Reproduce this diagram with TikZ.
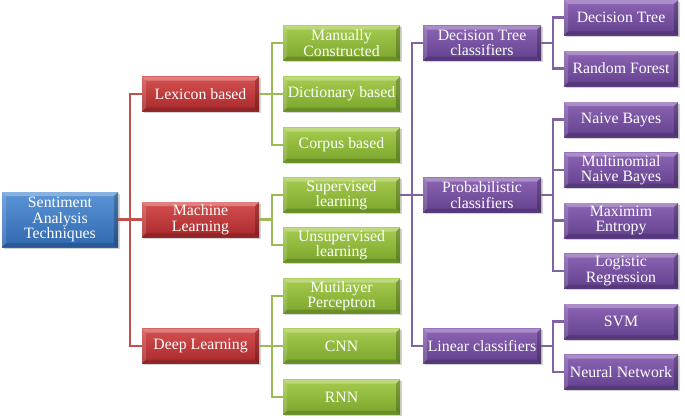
\documentclass[tikz,border=0pt]{standalone}
\usepackage{fontspec}
\setmainfont{Liberation Serif}
\usetikzlibrary{shadows}
\definecolor{bluetop}{HTML}{5C95D6}
\definecolor{bluebot}{HTML}{2F68AE}
\definecolor{redtop}{HTML}{D65050}
\definecolor{redbot}{HTML}{A8292B}
\definecolor{greentop}{HTML}{A6CC4E}
\definecolor{greenbot}{HTML}{7AA52B}
\definecolor{purptop}{HTML}{8D65B5}
\definecolor{purpbot}{HTML}{62408D}
\definecolor{redline}{HTML}{C0504D}
\definecolor{greenline}{HTML}{9BBB59}
\definecolor{purpline}{HTML}{8064A2}
\tikzset{
  bevel/.style={path picture={
    \fill[white,opacity=0.28] (path picture bounding box.north west) -- (path picture bounding box.north east)
      -- ([xshift=-4pt,yshift=-4pt]path picture bounding box.north east)
      -- ([xshift=4pt,yshift=-4pt]path picture bounding box.north west) -- cycle;
    \fill[white,opacity=0.15] (path picture bounding box.north west) -- (path picture bounding box.south west)
      -- ([xshift=4pt,yshift=4pt]path picture bounding box.south west)
      -- ([xshift=4pt,yshift=-4pt]path picture bounding box.north west) -- cycle;
    \fill[black,opacity=0.22] (path picture bounding box.north east) -- (path picture bounding box.south east)
      -- ([xshift=-4pt,yshift=4pt]path picture bounding box.south east)
      -- ([xshift=-4pt,yshift=-4pt]path picture bounding box.north east) -- cycle;
    \fill[black,opacity=0.15] (path picture bounding box.south west) -- (path picture bounding box.south east)
      -- ([xshift=-4pt,yshift=4pt]path picture bounding box.south east)
      -- ([xshift=4pt,yshift=4pt]path picture bounding box.south west) -- cycle;
  }},
  box/.style={rectangle, minimum height=35pt, inner sep=0pt, align=center,
    text=white, font=\fontsize{15.8}{15.5}\selectfont, bevel,
    drop shadow={shadow xshift=1.5pt, shadow yshift=-1.5pt, opacity=0.35}},
  bluebox/.style={box, minimum width=116pt, minimum height=55pt, top color=bluetop, bottom color=bluebot},
  redbox/.style={box, minimum width=117pt, top color=redtop, bottom color=redbot},
  greenbox/.style={box, minimum width=117pt, top color=greentop, bottom color=greenbot},
  purpbox/.style={box, minimum width=118pt, top color=purptop, bottom color=purpbot},
  purpboxr/.style={box, minimum width=114pt, top color=purptop, bottom color=purpbot},
  conn/.style={line width=2.6pt, line join=miter},
}
\begin{document}
\begin{tikzpicture}[x=1pt,y=-1pt]
\useasboundingbox (0,0) rectangle (685,418);
% nodes
\node[bluebox] (root) at (60,219.5) {Sentiment\\Analysis\\Techniques};

\node[redbox] (lex) at (200.5,94) {Lexicon based};
\node[redbox] (ml) at (200.5,219.5) {Machine\\Learning};
\node[redbox] (dl) at (200.5,346) {Deep Learning};

\node[greenbox] (man) at (341.5,43) {Manually\\Constructed};
\node[greenbox] (dict) at (341.5,94) {Dictionary based};
\node[greenbox] (corp) at (341.5,145) {Corpus based};
\node[greenbox] (sup) at (341.5,195) {Supervised\\learning};
\node[greenbox] (unsup) at (341.5,245) {Unsupervised\\learning};
\node[greenbox] (mlp) at (341.5,296) {Mutilayer\\Perceptron};
\node[greenbox] (cnn) at (341.5,346) {CNN};
\node[greenbox] (rnn) at (341.5,397) {RNN};

\node[purpbox] (dtc) at (482,43) {Decision Tree\\classifiers};
\node[purpbox] (prob) at (482,195) {Probabilistic\\classifiers};
\node[purpbox] (lin) at (482,346) {Linear classifiers};

\node[purpboxr] (dt) at (621,17.5) {Decision Tree};
\node[purpboxr] (rf) at (621,68.5) {Random Forest};
\node[purpboxr] (nb) at (621,119.5) {Naive Bayes};
\node[purpboxr] (mnb) at (621,170) {Multinomial\\Naive Bayes};
\node[purpboxr] (me) at (621,220.5) {Maximim\\Entropy};
\node[purpboxr] (lr) at (621,271) {Logistic\\Regression};
\node[purpboxr] (svm) at (621,321.5) {SVM};
\node[purpboxr] (nn) at (621,372) {Neural Network};

% trunk coordinates
\coordinate (tr) at (130,219.5);
\coordinate (tg1) at (272,94);
\coordinate (tg2) at (272,219.5);
\coordinate (tg3) at (272,346);
\coordinate (tp) at (412,195);
\coordinate (tq1) at (553,43);
\coordinate (tq2) at (553,195);
\coordinate (tq3) at (553,346);

% connectors
\begin{scope}[conn, draw=redline]
\draw (root.east) -- (tr);
\draw (lex.west) -| (tr) |- (dl.west);
\draw (tr) -- (ml.west);
\end{scope}
\begin{scope}[conn, draw=greenline]
\draw (lex.east) -- (tg1);
\draw (man.west) -| (tg1) |- (corp.west);
\draw (tg1) -- (dict.west);
\draw (ml.east) -- (tg2);
\draw (sup.west) -| (tg2) |- (unsup.west);
\draw (dl.east) -- (tg3);
\draw (mlp.west) -| (tg3) |- (rnn.west);
\draw (tg3) -- (cnn.west);
\end{scope}
\begin{scope}[conn, draw=purpline]
\draw (sup.east) -- (tp) -- (prob.west);
\draw (dtc.west) -| (tp) |- (lin.west);
\draw (dtc.east) -- (tq1);
\draw (dt.west) -| (tq1) |- (rf.west);
\draw (prob.east) -- (tq2);
\draw (nb.west) -| (tq2) |- (lr.west);
\draw (tq2) |- (mnb.west);
\draw (tq2) |- (me.west);
\draw (lin.east) -- (tq3);
\draw (svm.west) -| (tq3) |- (nn.west);
\end{scope}
\end{tikzpicture}
\end{document}
